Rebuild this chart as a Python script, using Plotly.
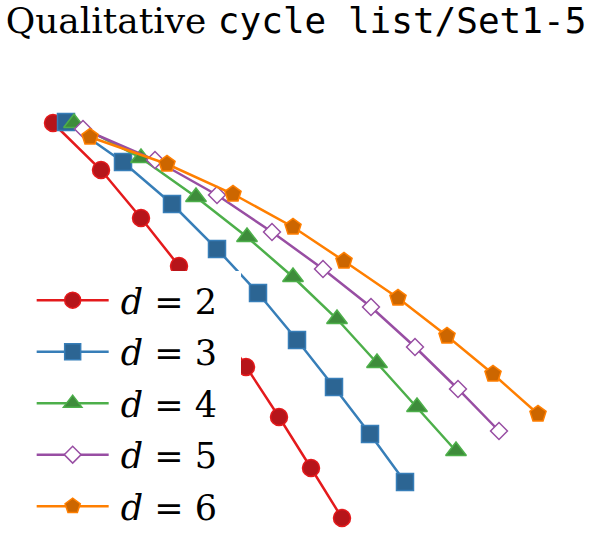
import plotly.graph_objects as go

# values (x right, y down-negative)
labels = ["2", "3", "4", "5", "6"]

x_d2 = [0.00, 0.48, 0.88, 1.26, 1.60, 1.93, 2.26, 2.58, 2.89]
y_d2 = [0.00, -0.47, -0.95, -1.43, -1.93, -2.44, -2.94, -3.45, -3.95]

x_d3 = [0.13, 0.70, 1.19, 1.64, 2.05, 2.44, 2.81, 3.17, 3.52]
y_d3 = [0.01, -0.39, -0.81, -1.26, -1.70, -2.17, -2.64, -3.11, -3.59]

x_d4 = [0.21, 0.88, 1.43, 1.94, 2.40, 2.84, 3.24, 3.64, 4.03]
y_d4 = [0.00, -0.35, -0.74, -1.14, -1.54, -1.96, -2.40, -2.84, -3.28]

x_d5 = [0.30, 1.02, 1.64, 2.19, 2.70, 3.18, 3.62, 4.05, 4.46]
y_d5 = [-0.06, -0.37, -0.72, -1.09, -1.46, -1.84, -2.24, -2.66, -3.08]

x_d6 = [0.37, 1.14, 1.80, 2.40, 2.91, 3.45, 3.94, 4.40, 4.85]
y_d6 = [-0.14, -0.41, -0.71, -1.04, -1.38, -1.75, -2.13, -2.51, -2.91]

xs = [x_d2, x_d3, x_d4, x_d5, x_d6]
ys = [y_d2, y_d3, y_d4, y_d5, y_d6]

# Set1-5 colours: outline, darker fill
line_colors = ["#E41A1C", "#377EB8", "#4DAF4A", "#984EA3", "#FF7F00"]
fill_colors = ["#B6151A", "#2C6593", "#3E8C3B", "#FFFFFF", "#CC6600"]
symbols = ["circle", "square", "triangle-up", "diamond", "pentagon"]
sizes = [17, 17, 18, 13, 17]

fig = go.Figure()
for i in range(5):
    fig.add_trace(go.Scatter(
        x=xs[i], y=ys[i],
        mode="lines+markers",
        name=f"\u2009<i>d</i> = {labels[i]}\u00a0\u2009",
        legendgroup=labels[i],
        cliponaxis=False,
        line=dict(color=line_colors[i], width=2.5),
        marker=dict(symbol=symbols[i], size=sizes[i], color=fill_colors[i],
                    line=dict(color=line_colors[i], width=1.5)),
    ))

fig.update_layout(
    width=592, height=534,
    margin=dict(l=0, r=0, t=0, b=0, autoexpand=False),
    paper_bgcolor="white", plot_bgcolor="white",
    title=dict(
        text="Qualitative <span style='font-family:DejaVu Sans Mono'>cycle list/Set1-5</span>",
        font=dict(family="DejaVu Serif", size=36, color="black"),
        x=0.5, xanchor="center", y=0.985, yanchor="top",
        pad=dict(t=0, b=0),
    ),
    xaxis=dict(visible=False, range=[-0.53, 5.39]),
    yaxis=dict(visible=False, range=[-4.11, 1.23]),
    legend=dict(
        x=0.0535, xanchor="left", y=0.4927, yanchor="top",
        bgcolor="white", borderwidth=0,
        font=dict(family="DejaVu Serif", size=35, color="black"),
        traceorder="grouped", tracegroupgap=3,
        itemwidth=72,
    ),
)

# drop the browser's default body margin so the figure sits at the window corner
fig.write_html("out.html", config={"displayModeBar": False},
               post_script="document.body.style.margin='0';")
